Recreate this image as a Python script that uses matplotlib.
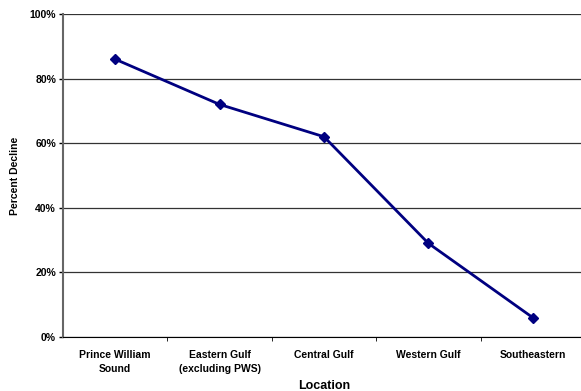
import numpy as np
import matplotlib.pyplot as plt

locations = ['Prince William\nSound', 'Eastern Gulf\n(excluding PWS)', 'Central Gulf',
             'Western Gulf', 'Southeastern']
decline = [86, 72, 62, 29, 6]
y_ticks = [0, 20, 40, 60, 80, 100]

plt.rcParams['font.family'] = ['Liberation Sans', 'DejaVu Sans']

fig = plt.figure(figsize=(5.81, 3.91), dpi=100)
ax = fig.add_axes([63 / 581, 1 - 337 / 391, 522 / 581, 323 / 391])

x = np.arange(len(locations))
ax.plot(x, decline, color='#000080', lw=2, marker='D', ms=5, zorder=3, clip_on=False)

ax.set_xlim(-0.5, len(locations) - 0.5)
ax.set_ylim(0, 100)
ax.set_yticks(y_ticks)
ax.set_yticklabels([f'{v}%' for v in y_ticks], fontsize=7.5, fontweight='bold')
ax.yaxis.grid(True, color='#333333', lw=0.9)
ax.set_axisbelow(True)

# category labels sit between the tick marks
ax.set_xticks(x)
ax.set_xticklabels(locations, fontsize=7.5, fontweight='bold', linespacing=1.5)
ax.tick_params(axis='x', length=0, pad=9)
ax.set_xticks(np.arange(0.5, len(locations) - 0.5), minor=True)
ax.tick_params(axis='x', which='minor', length=3, direction='out')
ax.tick_params(axis='y', length=3, width=1, pad=2)

for side in ['top', 'right']:
    ax.spines[side].set_visible(False)
ax.spines['left'].set_color('#666666')
ax.spines['left'].set_linewidth(1.5)
ax.spines['bottom'].set_color('black')

ax.set_xlabel('Location', fontsize=9, fontweight='bold', labelpad=5)
ax.set_ylabel('Percent Decline', fontsize=7.5, fontweight='bold', labelpad=7)

fig.savefig('out.png', dpi=100)
